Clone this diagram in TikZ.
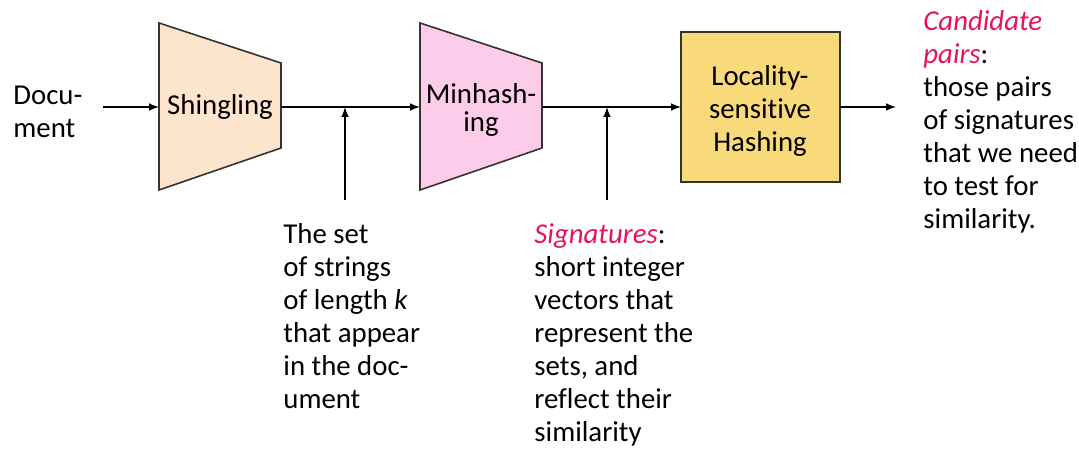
\documentclass[tikz,border=0pt]{standalone}
\usepackage{fontspec}
\setmainfont[Ligatures=NoCommon]{Carlito}
\usetikzlibrary{calc}

\definecolor{shinglefill}{RGB}{253,228,204}
\definecolor{minhashfill}{RGB}{252,204,234}
\definecolor{lshfill}{RGB}{249,218,122}
\definecolor{hilite}{RGB}{232,18,92}

\tikzset{%
  >=latex, % small filled heads
  stage/.style={draw=black!80,line width=0.8pt},
  flow/.style={->,line width=0.7pt},
  note/.style={inner sep=0pt,align=left,anchor=north west},
  caption/.style={inner sep=0pt,align=center}%
}

\begin{document}
\begin{tikzpicture}[x=0.5pt,y=-0.5pt,font=\fontsize{14.4}{16.5}\selectfont]
\useasboundingbox (0,0) rectangle (1079,449);

%stages
\draw[stage,fill=shinglefill] (159,23) -- (281,63) -- (281,148) -- (159,190) -- cycle;
\draw[stage,fill=minhashfill] (420,23) -- (542,63) -- (542,148) -- (420,190) -- cycle;
\draw[stage,fill=lshfill] (681,32) rectangle (840,182);

%ports on the main line
\coordinate (shin-in) at (159,107);
\coordinate (shin-out) at (281,107);
\coordinate (minh-in) at (420,107);
\coordinate (minh-out) at (542,107);
\coordinate (lsh-in) at (681,107);
\coordinate (lsh-out) at (840,107);
\coordinate (pairs-out) at (896,107);
\coordinate (k-tap) at (345,107);
\coordinate (k-foot) at (345,200);
\coordinate (sig-tap) at (607,107);
\coordinate (sig-foot) at (607,200);

%labels
\node[caption] (shin) at (220,107) {Shingling};
\node[caption,font=\fontsize{14.4}{14}\selectfont] (minh) at (481,110) {Minhash-\\ing};
\node[caption] (lsh) at (760,111) {Locality-\\sensitive\\Hashing};
\node[note] (doc) at (13,86) {Docu-\\ment};
\node[note] (shingles) at (283,223) {The set\\of strings\\of length \textit{k}\\that appear\\in the doc-\\ument};
\node[note] (sigs) at (534,223) {\textcolor{hilite}{\textit{Signatures}}:\\short integer\\vectors that\\represent the\\sets, and\\reflect their\\similarity};
\node[note] (pairs) at (923,10) {\textcolor{hilite}{\textit{Candidate}}\\\textcolor{hilite}{\textit{pairs}}:\\those pairs\\of signatures\\that we need\\to test for\\similarity.};

%flow
\draw[flow] ([xshift=10pt]doc.east |- shin-in) -- (shin-in);
\draw[flow] (shin-out) -- (minh-in);
\draw[flow] (minh-out) -- (lsh-in);
\draw[flow] (lsh-out) -- (pairs-out);
\draw[flow] (k-foot) -- (k-tap);
\draw[flow] (sig-foot) -- (sig-tap);

\end{tikzpicture}
\end{document}
